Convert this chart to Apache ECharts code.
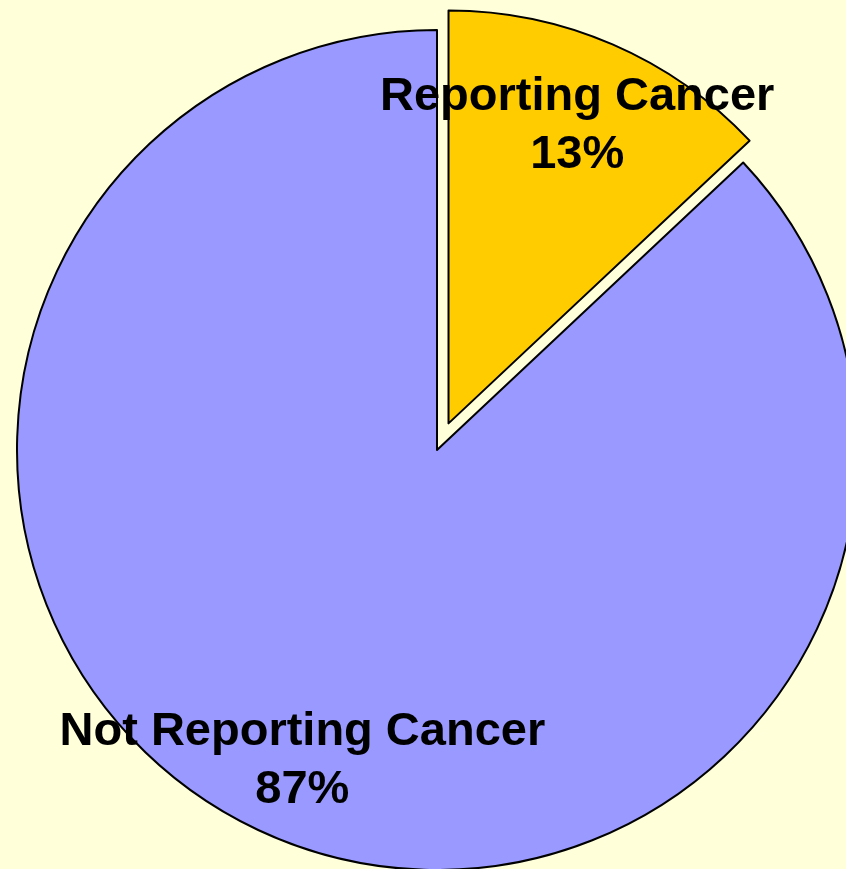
<!DOCTYPE html>
<html>
<head>
<meta charset="utf-8">
<script src="https://cdn.jsdelivr.net/npm/echarts@6/dist/echarts.min.js"></script>
<style>
  html, body { margin: 0; padding: 0; background: #FFFFD9; }
  #chart { width: 846px; height: 869px; }
</style>
</head>
<body>
<div id="chart"></div>
<script>
// Share of respondents reporting cancer
const categories = ['Reporting Cancer', 'Not Reporting Cancer'];
const shares = [13, 87];
const colors = ['#FFCC00', '#9999FF'];
const explodedIndex = 0;

const chart = echarts.init(document.getElementById('chart'), null, { renderer: 'canvas' });

const center = [437, 450];
const outline = { borderColor: '#000000', borderWidth: 2 };

// Build one pie's data, painting only the slices for which `show` is true
function sliceData(show, withSelect) {
  return categories.map((name, i) => ({
    name: name,
    value: shares[i],
    selected: withSelect && i === explodedIndex,
    itemStyle: show(i)
      ? Object.assign({ color: colors[i] }, outline)
      : { color: 'rgba(0,0,0,0)', borderWidth: 0 }
  }));
}

const common = {
  type: 'pie',
  center: center,
  startAngle: 90,
  clockwise: true,
  silent: true,
  animation: false,
  label: { show: false },
  labelLine: { show: false },
  emphasis: { disabled: true }
};

chart.setOption({
  backgroundColor: '#FFFFD9',
  series: [
    // main slice(s)
    Object.assign({}, common, {
      name: 'base',
      radius: 420,
      data: sliceData(i => i !== explodedIndex, false)
    }),
    // exploded slice
    Object.assign({}, common, {
      name: 'exploded',
      radius: 413,
      selectedMode: 'single',
      selectedOffset: 29,
      select: { itemStyle: Object.assign({ color: colors[explodedIndex] }, outline) },
      data: sliceData(i => i === explodedIndex, true)
    }),
    // labels
    Object.assign({}, common, {
      name: 'labels',
      radius: [252, 420],
      selectedMode: 'single',
      selectedOffset: 14,
      select: { itemStyle: { color: 'rgba(0,0,0,0)', borderWidth: 0 } },
      data: sliceData(() => false, true),
      label: {
        show: true,
        position: 'inside',
        formatter: p => p.name + '\n' + p.value + '%',
        color: '#000000',
        fontFamily: '"Liberation Sans", Arial, sans-serif',
        fontWeight: 'bold',
        fontSize: 47,
        lineHeight: 58,
        align: 'center'
      }
    })
  ]
});
</script>
</body>
</html>
